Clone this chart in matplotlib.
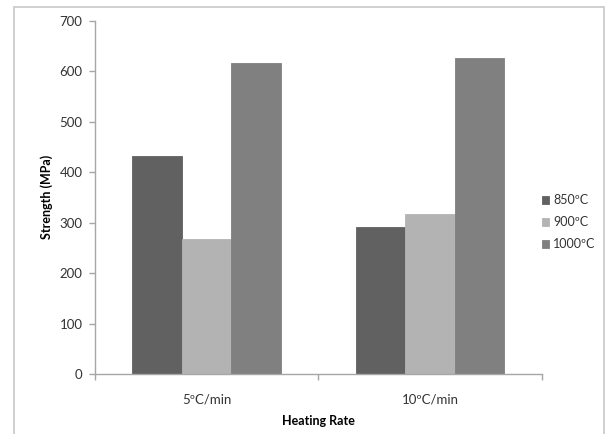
import matplotlib
matplotlib.use("Agg")
import matplotlib.pyplot as plt
from matplotlib.patches import Rectangle
import numpy as np

categories = ["5ºC/min", "10ºC/min"]
series_names = ["850ºC", "900ºC", "1000ºC"]
s850 = [432, 291]
s900 = [268, 317]
s1000 = [617, 627]
colors = ["#616161", "#b3b3b3", "#808080"]
yticks = [0, 100, 200, 300, 400, 500, 600, 700]

plt.rcParams['font.family'] = ['Lato', 'DejaVu Sans']

fig = plt.figure(figsize=(6.09, 4.34), dpi=100)
ax = fig.add_axes([0.156, 0.1382, 0.7335, 0.8141])

x = np.arange(len(categories))
w = 1 / 4.5
for i, (vals, c, name) in enumerate(zip([s850, s900, s1000], colors, series_names)):
    ax.bar(x + (i - 1) * w, vals, width=w, color=c, label=name,
           edgecolor=c, linewidth=0.6)

ax.set_xlim(-0.5, len(categories) - 0.5)
ax.set_ylim(0, 700)
ax.set_yticks(yticks)
ax.set_xticks(x)
ax.set_xticklabels(categories)
ax.set_xticks(np.arange(-0.5, len(categories)), minor=True)

axis_col = "#a6a6a6"
for s in ["top", "right"]:
    ax.spines[s].set_visible(False)
for s in ["left", "bottom"]:
    ax.spines[s].set_color(axis_col)
    ax.spines[s].set_linewidth(1.0)

ax.tick_params(axis="y", direction="out", length=4, width=1, color=axis_col,
               pad=5, labelsize=9.5, labelcolor="#333333")
ax.tick_params(axis="x", which="major", length=0, pad=14, labelsize=9.5,
               labelcolor="#333333")
ax.tick_params(axis="x", which="minor", direction="out", length=4, width=1,
               color=axis_col)

ax.set_ylabel("Strength (MPa)", fontsize=9, fontweight="bold", labelpad=5)
ax.set_xlabel("Heating Rate", fontsize=9, fontweight="bold", labelpad=7)

leg = ax.legend(loc="center left", bbox_to_anchor=(0.0, 0.43, 1.0, 0.0),
                frameon=False, fontsize=9, handlelength=0.6, handleheight=0.6,
                handletextpad=0.3, labelspacing=0.8, borderaxespad=0.0,
                borderpad=0.0)
leg.set_bbox_to_anchor((1.0, 0.43), transform=ax.transAxes)
for t in leg.get_texts():
    t.set_color("#333333")

border = Rectangle((0.0222, -0.05), 0.9913 - 0.0222, 0.985 + 0.05,
                   transform=fig.transFigure, fill=False,
                   edgecolor="#c8c8c8", linewidth=1.2)
fig.patches.append(border)

fig.savefig("out.png", dpi=100)
